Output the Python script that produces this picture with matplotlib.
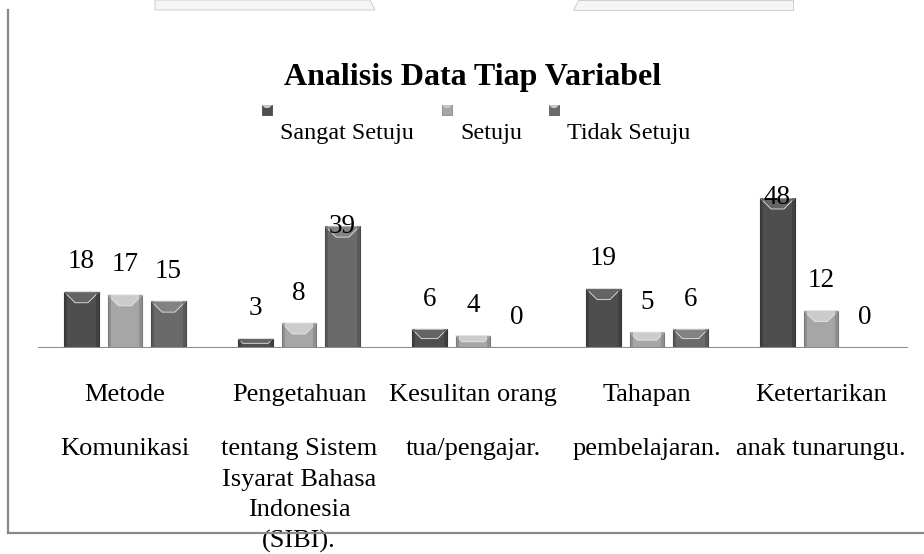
import numpy as np
import matplotlib.pyplot as plt
from matplotlib.patches import Polygon, Rectangle

# ~~~~~~ Data ~~~~~~~~~~~~~~~~~~~~~~~~~~~~~~~~~~~~~~~~~~~~~~~~~~~~~~~~~~~~~~~~

category_top = ["Metode", "Pengetahuan", "Kesulitan orang", "Tahapan", "Ketertarikan"]
category_rest = ["Komunikasi",
                 "tentang Sistem\nIsyarat Bahasa\nIndonesia\n(SIBI).",
                 "tua/pengajar.",
                 "pembelajaran.",
                 "anak tunarungu."]
series = ["Sangat Setuju", "Setuju", "Tidak Setuju"]
sangat_setuju = [18, 3, 6, 19, 48]
setuju = [17, 8, 4, 5, 12]
tidak_setuju = [15, 39, 0, 6, 0]
title = "Analisis Data Tiap Variabel"

values = [sangat_setuju, setuju, tidak_setuju]
body_colors = ['#4e4e4e', '#a6a6a6', '#6a6a6a']
top_colors = ['#646464', '#cccccc', '#828282']
edge_colors = ['#363636', '#7a7a7a', '#4a4a4a']

plt.rcParams['font.family'] = ['Liberation Serif', 'DejaVu Serif']

W, H = 924, 554
fig = plt.figure(figsize=(W / 100, H / 100), dpi=100)
ax = fig.add_axes([38 / W, 1 - 348 / H, 870 / W, 150 / H])
ax.set_xlim(-0.5, 4.5)
ax.set_ylim(0, 48)

sx = ax.bbox.width / 5.0      # pixels per x unit
sy = ax.bbox.height / 48.0    # pixels per y unit


def bevel(rect, top_c, edge_c):
    x0, w, h = rect.get_x(), rect.get_width(), rect.get_height()
    if h <= 0:
        return
    d = min(11.0, h * sy / 2)
    dx, dy = d / sx, d / sy
    ax.add_patch(Polygon([(x0, h), (x0 + w, h), (x0 + w - dx, h - dy), (x0 + dx, h - dy)],
                         closed=True, fc=top_c, ec='#e6e6e6', lw=0.6, zorder=3))
    ax.add_patch(Rectangle((x0, 0), 3 / sx, h, fc=edge_c, ec='none', alpha=0.5, zorder=3))
    ax.add_patch(Rectangle((x0 + w - 3 / sx, 0), 3 / sx, h, fc=edge_c, ec='none', alpha=0.5, zorder=3))


# ~~~~~~ Bars ~~~~~~~~~~~~~~~~~~~~~~~~~~~~~~~~~~~~~~~~~~~~~~~~~~~~~~~~~~~~~~~~~

x = np.arange(len(category_top))
offsets = [-0.25, 0.0, 0.25]
label_off = 9.6
for k in range(3):
    bars = ax.bar(x + offsets[k], values[k], 0.2, color=body_colors[k],
                  edgecolor=edge_colors[k], linewidth=0.8, zorder=2)
    for rect, v in zip(bars, values[k]):
        bevel(rect, top_colors[k], edge_colors[k])
        y = v + label_off
        if y > ax.get_ylim()[1]:
            y = v
        ax.text(rect.get_x() + rect.get_width() / 2, y, str(v), ha='center', va='center',
                fontsize=19.5, zorder=5)

ax.axhline(0, color='#8c8c8c', lw=2.2, zorder=4)

for s in ax.spines.values():
    s.set_visible(False)
ax.set_yticks([])
ax.set_xticks(x)
ax.set_xticklabels(category_top, fontsize=19)
ax.tick_params(axis='x', length=0, pad=26)

for i, txt in enumerate(category_rest):
    ax.annotate(txt, xy=(i, 0), xycoords=('data', 'axes fraction'), xytext=(0, -65),
                textcoords='offset points', ha='center', va='top', fontsize=19,
                linespacing=1.5, annotation_clip=False)

# ~~~~~~ Title & legend ~~~~~~~~~~~~~~~~~~~~~~~~~~~~~~~~~~~~~~~~~~~~~~~~~~~~~~~

fig.text(473 / W, 1 - 77 / H, title, ha='center', va='center', fontsize=23, fontweight='bold')

mark_x = [262, 442, 549]
text_x = [280, 460, 567]
for k in range(3):
    mx = mark_x[k]
    fig.add_artist(Rectangle((mx / W, 1 - 115 / H), 10 / W, 10 / H, transform=fig.transFigure,
                             fc=body_colors[k], ec=edge_colors[k], lw=0.5))
    fig.add_artist(Polygon([(mx / W, 1 - 105 / H), ((mx + 10) / W, 1 - 105 / H),
                            ((mx + 7) / W, 1 - 108 / H), ((mx + 3) / W, 1 - 108 / H)],
                           closed=True, transform=fig.transFigure, fc='#c8c8c8', ec='none'))
    fig.text(text_x[k] / W, 1 - 133 / H, series[k], ha='left', va='center', fontsize=17.4)

# ~~~~~~ Frame and page remnants ~~~~~~~~~~~~~~~~~~~~~~~~~~~~~~~~~~~~~~~~~~~~~~

fig.add_artist(plt.Line2D([8 / W, 8 / W], [1 - 10 / H, 1 - 533 / H], transform=fig.transFigure,
                          color='#8a8a8a', lw=1.6))
fig.add_artist(plt.Line2D([8 / W, 1.0], [1 - 533 / H, 1 - 533 / H], transform=fig.transFigure,
                          color='#8a8a8a', lw=1.6))
for pts in ([(155, 0), (370, 0), (375, 10), (155, 10)],
            [(578, 0), (793, 0), (793, 10), (573, 10)]):
    fig.add_artist(Polygon([(px / W, 1 - py / H) for px, py in pts], closed=True,
                           transform=fig.transFigure, fc='#f5f5f5', ec='#c8c8c8', lw=0.6))

fig.savefig('out.png', dpi=100)
